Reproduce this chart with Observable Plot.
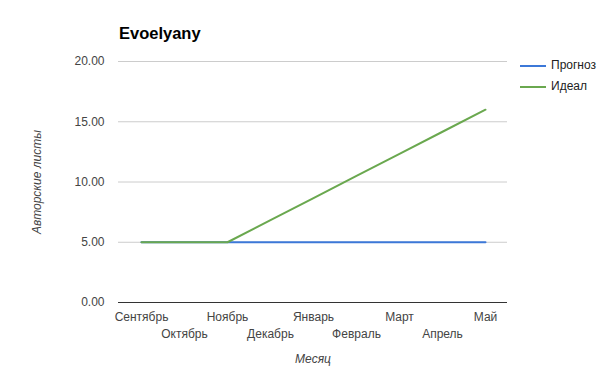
<!DOCTYPE html>
<html>
<head>
<meta charset="utf-8">
<script src="https://cdn.jsdelivr.net/npm/d3@7"></script>
<script src="https://cdn.jsdelivr.net/npm/@observablehq/plot@0.6"></script>
<style>
  body { margin: 0; background: #fff; font-family: Arial, "Liberation Sans", sans-serif; }
  #wrap { position: relative; width: 605px; height: 372px; }
  #title { position: absolute; left: 119px; top: 24px; font-size: 16.5px; font-weight: bold; color: #000; }
  .leg { position: absolute; left: 520px; font-size: 12px; color: #222; }
  .leg span.sw { position: absolute; left: 0; top: 7px; width: 26px; height: 2px; }
  .leg span.lb { position: absolute; left: 31px; top: 0; white-space: nowrap; }
</style>
</head>
<body>
<div id="wrap">
  <div id="chart"></div>
  <div id="title">Evoelyany</div>
  <div class="leg" style="top:58px"><span class="sw" style="background:#3c78d8"></span><span class="lb">Прогноз</span></div>
  <div class="leg" style="top:79px"><span class="sw" style="background:#6aa84f"></span><span class="lb">Идеал</span></div>
</div>
<script>
const months = ["Сентябрь","Октябрь","Ноябрь","Декабрь","Январь","Февраль","Март","Апрель","Май"];
const forecast = [5, 5, 5, 5, 5, 5, 5, 5, 5];
const ideal = [5, 5, 5, 6.83, 8.67, 10.5, 12.33, 14.17, 16];
const yTicks = [0, 5, 10, 15, 20];
const seriesNames = ["Прогноз", "Идеал"];
const seriesColors = ["#3c78d8", "#6aa84f"];

const rows = [];
months.forEach((m, i) => {
  rows.push({month: m, value: forecast[i], series: seriesNames[0]});
});
months.forEach((m, i) => {
  rows.push({month: m, value: ideal[i], series: seriesNames[1]});
});

const evenMonths = months.filter((d, i) => i % 2 === 0);
const oddMonths = months.filter((d, i) => i % 2 === 1);

const chart = Plot.plot({
  width: 605,
  height: 372,
  marginLeft: 118,
  marginRight: 98,
  marginTop: 61,
  marginBottom: 70,
  style: {fontFamily: "Arial, 'Liberation Sans', sans-serif", fontSize: "12px", background: "#fff"},
  x: {type: "point", domain: months, padding: 0.5, label: null},
  y: {domain: [0, 20], label: null},
  color: {domain: seriesNames, range: seriesColors},
  marks: [
    Plot.gridY(yTicks.filter(d => d > 0), {stroke: "#cccccc", strokeOpacity: 1, strokeWidth: 1}),
    Plot.axisY(yTicks, {tickSize: 0, tickPadding: 14, tickFormat: d3.format(".2f"), fill: "#444", fontSize: 12, label: null}),
    Plot.ruleY([0], {stroke: "#333", strokeWidth: 1}),
    Plot.line(rows, {x: "month", y: "value", z: "series", stroke: "series", strokeWidth: 2}),
    Plot.axisX(evenMonths, {tickSize: 0, tickPadding: 10, fill: "#444", fontSize: 12, label: null}),
    Plot.axisX(oddMonths, {tickSize: 0, tickPadding: 27, fill: "#444", fontSize: 12, label: null}),
    Plot.text(["Месяц"], {frameAnchor: "bottom", dy: 60, text: d => d, fontStyle: "italic", fill: "#444", fontSize: 12}),
    Plot.text(["Авторские листы"], {frameAnchor: "left", textAnchor: "middle", dx: -81, rotate: -90, text: d => d, fontStyle: "italic", fill: "#444", fontSize: 12})
  ]
});
document.getElementById("chart").appendChild(chart);
</script>
</body>
</html>
